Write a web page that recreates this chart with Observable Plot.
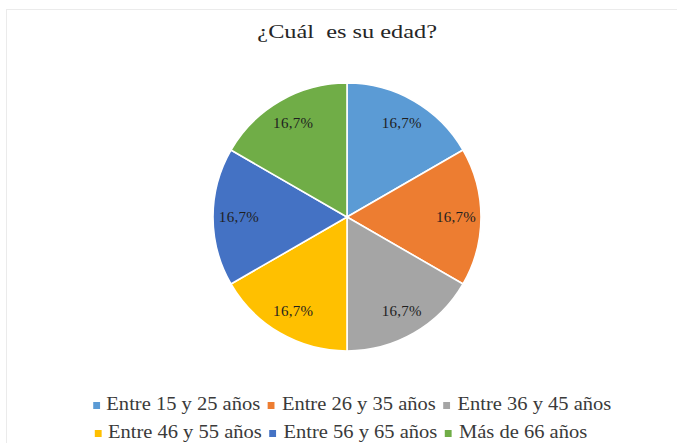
<!DOCTYPE html>
<html>
<head>
<meta charset="utf-8">
<script src="https://cdn.jsdelivr.net/npm/d3@7"></script>
<script src="https://cdn.jsdelivr.net/npm/@observablehq/plot@0.6"></script>
<style>
  html, body { margin: 0; padding: 0; background: #fff; width: 677px; height: 443px; overflow: hidden;
               font-family: 'Liberation Serif', serif; }
  #frame { position: absolute; left: 6px; top: 9px; width: 680px; height: 440px;
           border-top: 1px solid #ebebeb; border-left: 1px solid #ebebeb; }
  #title { padding-top: 10px; padding-bottom: 23px; height: 24px; line-height: 24px; text-align: center;
           font-family: 'Liberation Serif', serif; font-size: 19px; color: #262626; }
  #title span { display: inline-block; transform: scaleX(1.28); white-space: pre; }
  #legend { padding-top: 23px; text-align: center; font-family: 'Liberation Serif', serif;
            font-size: 18px; color: #3a3a3a; }
  .row { height: 28px; line-height: 28px; white-space: nowrap; }
  .row > div { display: inline-block; transform: scaleX(1.14); }
  .item { display: inline-block; margin: 0 3.5px; }
  .sw { display: inline-block; width: 6px; height: 7px; margin-right: 6px; vertical-align: 1px; }
  svg { display: block; }
</style>
</head>
<body>
<div id="frame">
  <div id="title"><span id="titleText"></span></div>
  <div id="chart"></div>
  <div id="legend"></div>
</div>
<script>
const titleText = "¿Cuál  es su edad?";
const categories = ["Entre 15 y 25 años", "Entre 26 y 35 años", "Entre 36 y 45 años",
                    "Entre 46 y 55 años", "Entre 56 y 65 años", "Más de 66 años"];
const values = [16.7, 16.7, 16.7, 16.7, 16.7, 16.7];
const labels = ["16,7%", "16,7%", "16,7%", "16,7%", "16,7%", "16,7%"];
const colors = ["#5B9BD5", "#ED7D31", "#A5A5A5", "#FFC000", "#4472C4", "#70AD47"];
const legendRows = [[0, 1, 2], [3, 4, 5]];
const legendRowShift = [10, -12];

document.getElementById("titleText").textContent = titleText;

const data = categories.map((c, i) => ({category: c, value: values[i], label: labels[i]}));
const slices = d3.pie().sort(null).value(d => d.value)(data);
const labelRadius = 0.81;
const labelData = slices.map(s => {
  const a = (s.startAngle + s.endAngle) / 2;
  return {category: s.data.category, label: s.data.label, x: labelRadius * Math.sin(a), y: labelRadius * Math.cos(a)};
});

const W = 680, H = 300, cx = 340, cy = 150, R = 134;

const pieMark = (index, scales) => {
  const x0 = scales.x(0), y0 = scales.y(0), r = scales.x(1) - x0;
  const color = scales.color || d3.scaleOrdinal(categories, colors);
  const g = d3.create("svg:g").attr("transform", `translate(${x0},${y0})`);
  const arc = d3.arc().innerRadius(0).outerRadius(r);
  g.selectAll("path").data(slices).join("path")
    .attr("d", arc)
    .attr("fill", d => color(d.data.category))
    .attr("stroke", "#fff")
    .attr("stroke-width", 1.6)
    .attr("stroke-linejoin", "round");
  return g.node();
};

const chart = Plot.plot({
  width: W,
  height: H,
  margin: 0,
  x: {domain: [-1, 1], range: [cx - R, cx + R], axis: null},
  y: {domain: [-1, 1], range: [cy + R, cy - R], axis: null},
  color: {domain: categories, range: colors},
  style: {background: "transparent", overflow: "visible", fontFamily: "'Liberation Serif', serif"},
  marks: [
    Plot.dot(labelData, {x: 0, y: 0, fill: "category", r: 0.001, fillOpacity: 0}),
    pieMark,
    Plot.text(labelData, {
      x: "x", y: "y", text: "label",
      fill: "#1f1f1f",
      fontSize: 15,
      fontFamily: "'Liberation Serif', serif",
      textAnchor: "middle"
    })
  ]
});
chart.querySelectorAll("text").forEach(t => t.setAttribute("letter-spacing", "0.3"));
document.getElementById("chart").appendChild(chart);

const legend = document.getElementById("legend");
legendRows.forEach((row, k) => {
  const r = document.createElement("div");
  r.className = "row";
  r.style.transform = `translateX(${legendRowShift[k] / 2}px)`;
  const inner = document.createElement("div");
  row.forEach(i => {
    const it = document.createElement("span");
    it.className = "item";
    const sw = document.createElement("span");
    sw.className = "sw";
    sw.style.background = colors[i];
    it.appendChild(sw);
    it.appendChild(document.createTextNode(categories[i]));
    inner.appendChild(it);
  });
  r.appendChild(inner);
  legend.appendChild(r);
});
</script>
</body>
</html>
